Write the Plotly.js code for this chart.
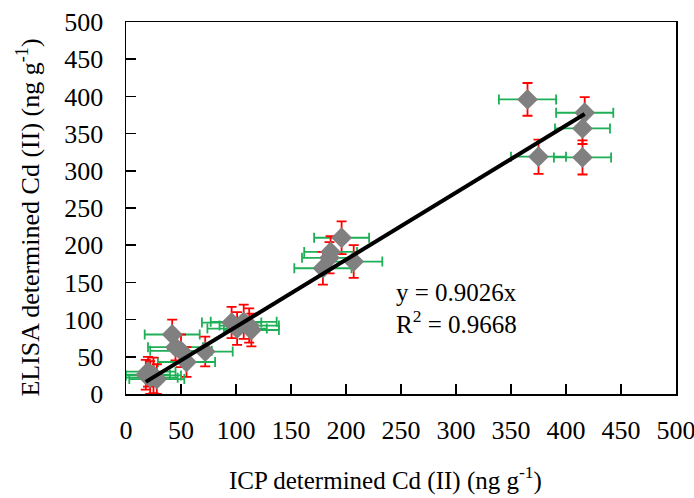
<!DOCTYPE html>
<html>
<head>
<meta charset="utf-8">
<script src="https://cdn.plot.ly/plotly-3.0.1.min.js"></script>
<style>html,body{margin:0;padding:0;background:#fff;}#chart{width:694px;height:498px;}</style>
</head>
<body>
<div id="chart"></div>
<script>
// ICP determined Cd (II) values (x), ng g-1
const icpValues   = [365, 417, 415, 375, 415, 196, 186, 185, 179, 207, 96, 101, 107, 112, 114, 42, 45, 50, 72, 55, 18, 20, 22, 25, 28];
// ELISA determined Cd (II) values (y), ng g-1
const elisaValues = [396, 378, 357, 319, 318, 210, 191, 183, 169, 178, 96, 88, 97, 92, 86, 80, 63, 58, 57, 43, 26, 30, 22, 25, 20];
// x error (ICP, green)
const icpErrors   = [26, 26, 25, 25, 26, 25, 24, 25, 26, 26, 27, 27, 30, 27, 25, 25, 25, 28, 25, 26, 22, 25, 25, 25, 25];
// y error (ELISA, red)
const elisaErrors = [22, 21, 21, 23, 23, 22, 21, 21, 22, 22, 21, 22, 23, 23, 22, 20, 18, 22, 20, 20, 20, 20, 22, 24, 20];
// fitted trendline (through origin)
const slope = 0.9026;
const rSquared = 0.9668;
const tickValues = [0, 50, 100, 150, 200, 250, 300, 350, 400, 450, 500];
const xTitle = "ICP determined Cd (II) (ng g<sup>-1</sup>)";
const yTitle = "ELISA determined Cd (II) (ng g<sup>-1</sup>)";

const xMin = Math.min(...icpValues), xMax = Math.max(...icpValues);
const fitX = [xMin, xMax];
const fitY = fitX.map(v => slope * v);

const FONT = "Liberation Serif, Times New Roman, serif";

const traces = [
  {
    type: "scatter", mode: "markers",
    x: icpValues, y: elisaValues,
    marker: {symbol: "diamond", size: 16, color: "#808080"},
    error_x: {type: "data", array: icpErrors, visible: true, color: "#1DB056", thickness: 1.8, width: 5},
    error_y: {type: "data", array: elisaErrors, visible: true, color: "#FF0000", thickness: 1.8, width: 5},
    showlegend: false, hoverinfo: "x+y"
  },
  {
    type: "scatter", mode: "lines",
    x: fitX, y: fitY,
    line: {color: "#000000", width: 4},
    showlegend: false
  }
];

const axisCommon = {
  range: [0, 500], tickvals: tickValues, ticktext: tickValues.map(String),
  ticks: "inside", ticklen: 10, tickwidth: 1.5, tickcolor: "#000",
  showline: true, linecolor: "#000", linewidth: 1.5, mirror: true,
  showgrid: false, zeroline: false, ticklabeloverflow: "allow",
  tickfont: {family: FONT, size: 26, color: "#000"}
};

const layout = {
  width: 694, height: 498,
  margin: {l: 126, r: 18, t: 22, b: 104},
  paper_bgcolor: "#fff", plot_bgcolor: "#fff",
  font: {family: FONT, color: "#000"},
  xaxis: Object.assign({}, axisCommon, {ticklabelstandoff: 12}),
  yaxis: Object.assign({}, axisCommon, {ticklabelstandoff: 16}),
  annotations: [
    {x: 0.471, y: -0.226, xref: "paper", yref: "paper", xanchor: "center", yanchor: "middle", showarrow: false,
     text: xTitle, font: {family: FONT, size: 25, color: "#000"}},
    {x: -0.178, y: 0.4745, xref: "paper", yref: "paper", xanchor: "center", yanchor: "middle", showarrow: false,
     textangle: -90, text: yTitle, font: {family: FONT, size: 26, color: "#000"}},
    {x: 244, y: 137, xref: "x", yref: "y", xanchor: "left", yanchor: "middle", showarrow: false,
     text: "y = " + slope.toFixed(4) + "x", font: {family: FONT, size: 25, color: "#000"}},
    {x: 244, y: 97, xref: "x", yref: "y", xanchor: "left", yanchor: "middle", showarrow: false,
     text: "R<sup>2</sup> = " + rSquared.toFixed(4), font: {family: FONT, size: 25, color: "#000"}}
  ]
};

Plotly.newPlot("chart", traces, layout, {displayModeBar: false, staticPlot: true});
</script>
</body>
</html>
